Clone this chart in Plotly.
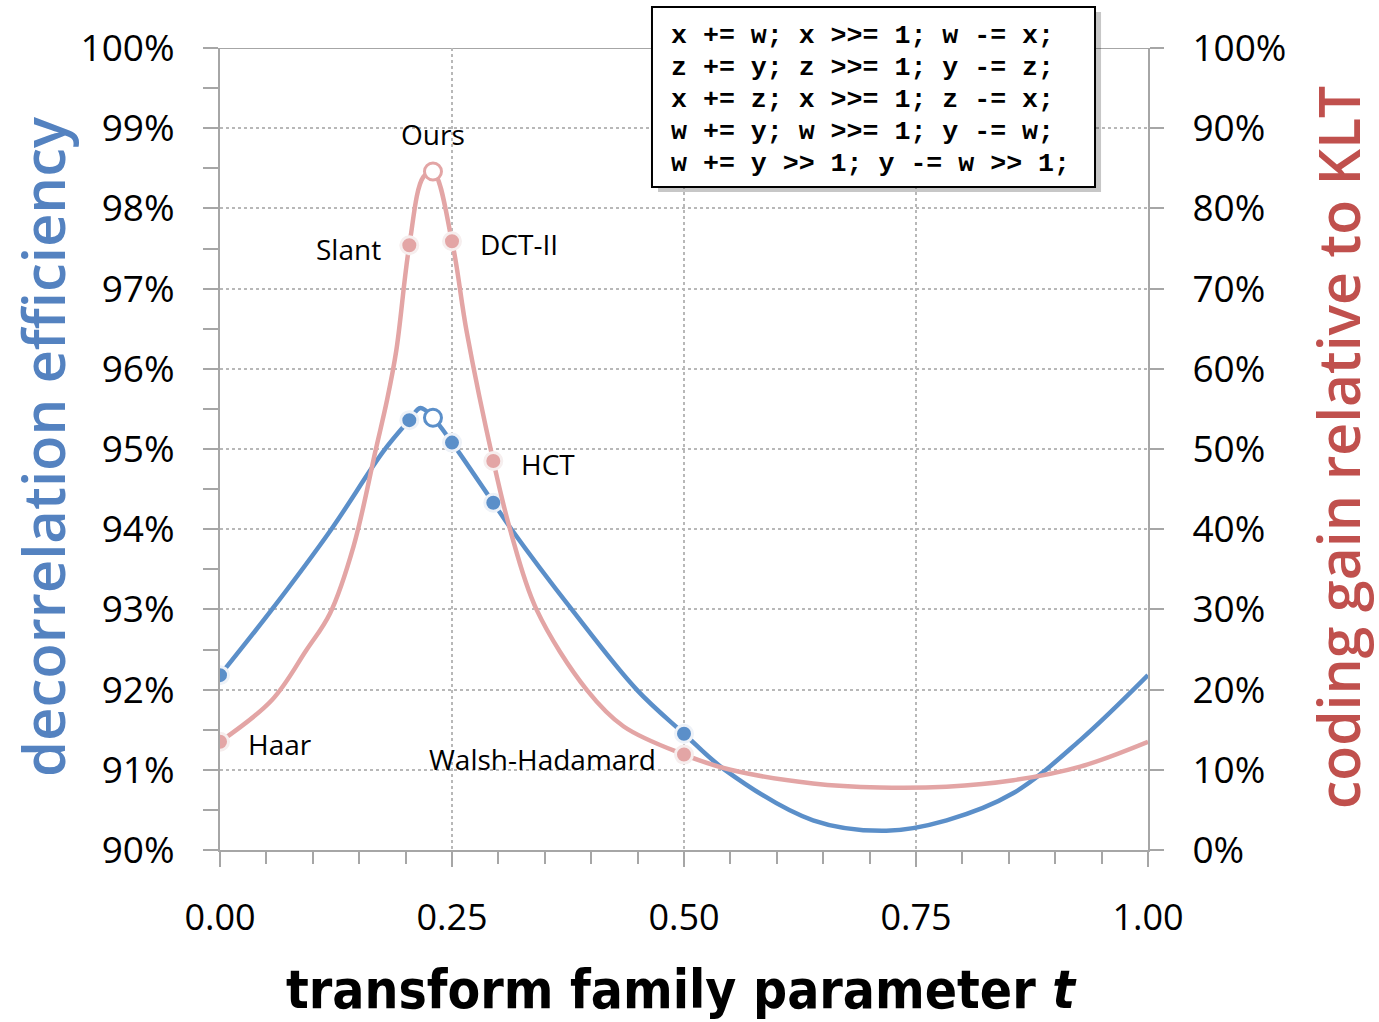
import plotly.graph_objects as go

# ---- data ----
t_eff = [0.000, 0.056, 0.120, 0.176, 0.204, 0.216, 0.2295, 0.250, 0.2945, 0.314,
         0.379, 0.449, 0.500, 0.544, 0.639, 0.718, 0.783, 0.855, 0.927, 1.000]
eff = [92.18, 93.00, 94.00, 94.97, 95.36, 95.51, 95.39, 95.08, 94.33, 94.00,
       93.00, 92.00, 91.45, 91.00, 90.37, 90.24, 90.37, 90.71, 91.37, 92.18]

t_gain = [0.000, 0.056, 0.093, 0.1185, 0.144, 0.168, 0.180, 0.190, 0.204, 0.219,
          0.2295, 0.250, 0.266, 0.2945, 0.3125, 0.341, 0.395, 0.435, 0.500, 0.550,
          0.639, 0.711, 0.783, 0.855, 0.927, 1.000]
gain = [13.5, 18.7, 24.9, 29.5, 37.9, 50.0, 56.1, 62.3, 75.4, 83.9,
        84.6, 75.9, 64.5, 48.5, 40.0, 30.0, 20.0, 15.4, 11.9, 10.0,
        8.3, 7.8, 7.9, 8.7, 10.4, 13.5]

names = ["Haar", "Slant", "Ours", "DCT-II", "HCT", "Walsh-Hadamard"]
marker_t = [0.0, 0.204, 0.2295, 0.25, 0.2945, 0.5]
marker_eff = [92.18, 95.36, 95.39, 95.08, 94.33, 91.45]
marker_gain = [13.5, 75.4, 84.6, 75.9, 48.5, 11.9]

code_lines = ["x += w; x >>= 1; w -= x;",
              "z += y; z >>= 1; y -= z;",
              "x += z; x >>= 1; z -= x;",
              "w += y; w >>= 1; y -= w;",
              "w += y >> 1; y -= w >> 1;"]

x_ticks = [0.0, 0.25, 0.5, 0.75, 1.0]

# ---- styles ----
BLUE = "#5b8fc9"
RED = "#e3a5a5"
BLUE_T = "#5482c0"
RED_T = "#c0504d"
AX = "#a6a6a6"
GRID = "#b8b8b8"
FONT = "Open Sans"

fig = go.Figure()

fig.add_trace(go.Scatter(x=t_eff, y=eff, mode="lines",
                         line=dict(color=BLUE, width=4.5, shape="spline", smoothing=1.0),
                         yaxis="y", hoverinfo="skip"))
fig.add_trace(go.Scatter(x=t_gain, y=gain, mode="lines",
                         line=dict(color=RED, width=4.5, shape="spline", smoothing=1.0),
                         yaxis="y2", hoverinfo="skip"))

fill_b = [("white" if n == "Ours" else BLUE) for n in names]
line_b = [(BLUE if n == "Ours" else "#eef2f8") for n in names]
fill_r = [("white" if n == "Ours" else RED) for n in names]
line_r = [(RED if n == "Ours" else "#f6eeee") for n in names]

fig.add_trace(go.Scatter(x=marker_t, y=marker_eff, mode="markers", yaxis="y",
                         marker=dict(size=17, color=fill_b,
                                     line=dict(color=line_b, width=3)),
                         hoverinfo="skip"))
fig.add_trace(go.Scatter(x=marker_t, y=marker_gain, mode="markers", yaxis="y2",
                         marker=dict(size=17, color=fill_r,
                                     line=dict(color=line_r, width=3)),
                         hoverinfo="skip"))

# point labels
label_pos = {
    "Haar": dict(xanchor="left", xshift=26, yshift=-2),
    "Slant": dict(xanchor="right", xshift=-26, yshift=-4),
    "Ours": dict(xanchor="center", xshift=0, yshift=38),
    "DCT-II": dict(xanchor="left", xshift=26, yshift=-3),
    "HCT": dict(xanchor="left", xshift=26, yshift=-3),
    "Walsh-Hadamard": dict(xanchor="right", xshift=-26, yshift=-4),
}
for n, tx, gy in zip(names, marker_t, marker_gain):
    p = label_pos[n]
    fig.add_annotation(x=tx, y=gy, xref="x", yref="y2", text=n, showarrow=False,
                       xanchor=p["xanchor"], yanchor="middle",
                       xshift=p["xshift"], yshift=p["yshift"],
                       font=dict(family=FONT, size=28, color="black"))

# code box (shadow + box)
fig.add_shape(type="rect", xref="paper", yref="paper",
              x0=0.4720, x1=0.9494, y0=0.8205, y1=1.0449,
              line=dict(width=0), fillcolor="rgba(0,0,0,0.22)", layer="above")
fig.add_shape(type="rect", xref="paper", yref="paper",
              x0=0.4655, x1=0.9429, y0=0.8267, y1=1.0511,
              line=dict(color="black", width=2), fillcolor="white", layer="above")
for i, ln in enumerate(code_lines):
    fig.add_annotation(x=0.4840, y=1.0150 - i * 0.0399, xref="paper", yref="paper",
                       text="<b>" + ln + "</b>", showarrow=False,
                       xanchor="left", yanchor="middle",
                       font=dict(family="Liberation Mono, Courier New, monospace",
                                 size=26.6, color="black"))

# solid top line at 100%
fig.add_shape(type="line", xref="paper", yref="y", x0=0, x1=1, y0=100, y1=100,
              line=dict(color=AX, width=2), layer="below")

# axis titles
fig.add_annotation(x=-0.1907, y=0.5025, xref="paper", yref="paper",
                   xanchor="center", yanchor="middle",
                   text="decorrelation efficiency", textangle=-90, showarrow=False,
                   font=dict(family=FONT, size=58, color=BLUE_T, weight=600))
fig.add_annotation(x=1.2047, y=0.5025, xref="paper", yref="paper",
                   xanchor="center", yanchor="middle",
                   text="coding gain relative to KLT", textangle=-90, showarrow=False,
                   font=dict(family=FONT, size=57, color=RED_T, weight=600))
fig.add_annotation(x=0.4968, y=-0.1740, xref="paper", yref="paper",
                   xanchor="center", yanchor="middle",
                   text="<b>transform family parameter <i>t</i></b>", showarrow=False,
                   font=dict(family="Liberation Sans Narrow, DejaVu Sans Condensed, Open Sans",
                             size=53, color="black"))

fig.update_layout(
    width=1379, height=1022,
    margin=dict(l=220, r=231, t=48, b=172),
    paper_bgcolor="white", plot_bgcolor="white",
    showlegend=False,
    xaxis=dict(range=[0, 1], tickvals=x_ticks, tickformat=".2f",
               showline=True, linecolor=AX, linewidth=2,
               ticks="outside", ticklen=15, tickwidth=2, tickcolor=AX,
               ticklabelstandoff=20,
               showgrid=True, gridcolor=GRID, griddash="dot", gridwidth=1.5,
               minor=dict(dtick=0.05, ticks="outside", ticklen=12, tickwidth=2,
                          tickcolor=AX, showgrid=False),
               tickfont=dict(family=FONT, size=36, color="black"),
               zeroline=False),
    yaxis=dict(range=[90, 100], dtick=1, ticksuffix="%",
               showline=True, linecolor=AX, linewidth=2,
               ticks="outside", ticklen=15, tickwidth=2, tickcolor=AX,
               ticklabelstandoff=21,
               showgrid=True, gridcolor=GRID, griddash="dot", gridwidth=1.5,
               minor=dict(dtick=0.5, ticks="outside", ticklen=15, tickwidth=2,
                          tickcolor=AX, showgrid=False),
               tickfont=dict(family=FONT, size=37, color="black"),
               zeroline=False),
    yaxis2=dict(range=[0, 100], dtick=10, ticksuffix="%", overlaying="y", side="right",
                showline=True, linecolor=AX, linewidth=2,
                ticks="outside", ticklen=14, tickwidth=2, tickcolor=AX,
                ticklabelstandoff=21, showgrid=False,
                tickfont=dict(family=FONT, size=37, color="black"),
                zeroline=False),
)

fig.write_html("out.html")
